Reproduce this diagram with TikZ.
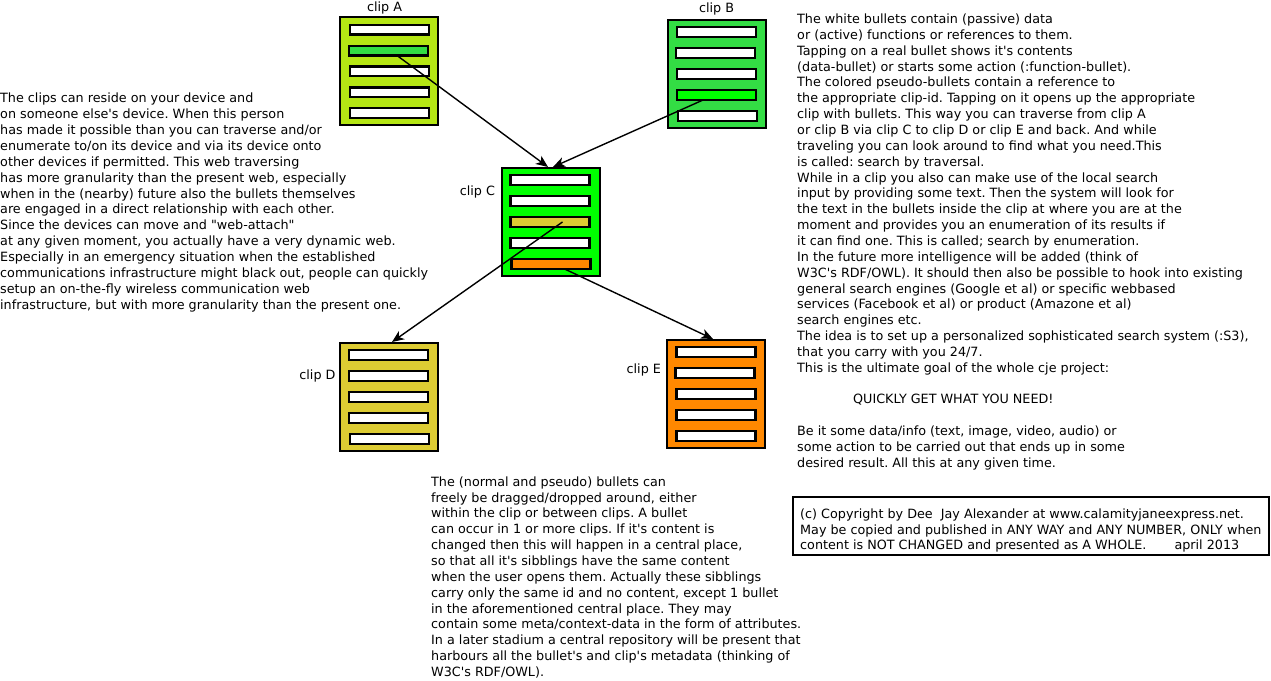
\documentclass[tikz,border=0pt]{standalone}
\usepackage{fontspec}
\setmainfont{DejaVu Sans}[Ligatures=TeXOff]
\usetikzlibrary{matrix,positioning,arrows.meta}
\definecolor{limeA}{RGB}{181,230,20}
\definecolor{greenB}{RGB}{51,221,68}
\definecolor{greenC}{RGB}{0,255,0}
\definecolor{yellowD}{RGB}{221,204,51}
\definecolor{orangeE}{RGB}{255,136,0}
\frenchspacing

\begin{document}
\begin{tikzpicture}[x=1bp, y=-1bp,
        font=\fontsize{12.75bp}{15.85bp}\selectfont,
        clipbox/.style={matrix of nodes, nodes in empty cells, draw, line width=2bp,
            inner sep=0pt, minimum width=98bp, minimum height=108bp, row sep=8.9bp,
            nodes={draw, fill=white, line width=2.2bp, minimum width=79bp, minimum height=9.8bp,
                inner sep=0pt, outer sep=0pt, anchor=center}},
        textblock/.style={align=left, inner sep=0pt, anchor=north west},
        link/.style={-{Stealth[length=12bp, width=10bp, inset=3.5bp]}, line width=1.4bp}
    ]
    \useasboundingbox (0,0) rectangle (1271,681);

    \matrix (A) [clipbox, fill=limeA] at (389,71.5) {
        \\ |[fill=greenB, xshift=-1bp]| \\ \\ \\ \\
    };
    \matrix (B) [clipbox, fill=greenB] at (716.5,74) {
        \\ |[xshift=-1bp]| \\ \\ |[fill=greenC]| \\ |[xshift=1bp]| \\
    };
    \matrix (C) [clipbox, fill=greenC] at (550.5,222) {
        \\ \\ |[fill=yellowD]| \\ \\ |[fill=orangeE, xshift=1bp]| \\
    };
    \matrix (D) [clipbox, fill=yellowD] at (389,397) {
        \\ \\ \\ \\ |[xshift=1bp]| \\
    };
    \matrix (E) [clipbox, fill=orangeE] at (715.5,394) {
        \\ |[xshift=-1bp]| \\ \\ \\ \\
    };

    \node (labA) [above=-1.3bp of A, xshift=-4.5bp] {clip A};
    \node (labB) [above=0bp of B] {clip B};
    \node (labC) [left=2bp of C.west, yshift=30.3bp] {clip C};
    \node (labD) [left=0bp of D.west, yshift=21.3bp] {clip D};
    \node (labE) [left=1bp of E.west, yshift=24bp] {clip E};

    \draw[link] ([xshift=8.5bp]A-2-1.south) -- ([xshift=-2.5bp]C.north);
    \draw[link] ([xshift=-13bp]B-4-1.south) -- ([xshift=2.5bp]C.north);
    \draw[link] ([xshift=12.5bp]C-3-1.center) -- ([xshift=3bp]D.north);
    \draw[link] ([xshift=13bp]C-5-1.south) -- ([xshift=-2.5bp]E.north);

    \node (lefttext) [textblock] at (0,93.1) {The clips can reside on your device and\\
        on someone else's device. When this person\\
        has made it possible than you can traverse and/or\\
        enumerate to/on its device and via its device onto\\
        other devices if permitted. This web traversing\\
        has more granularity than the present web, especially\\
        when in the (nearby) future also the bullets themselves\\
        are engaged in a direct relationship with each other.\\
        Since the devices can move and "web-attach"\\
        at any given moment, you actually have a very dynamic web.\\
        Especially in an emergency situation when the established\\
        communications infrastructure might black out, people can quickly\\
        setup an on-the-fly wireless communication web\\
        infrastructure, but with more granularity than the present one.};

    \node (righttext) [textblock] at (797,13.7) {The white bullets contain (passive) data\\
        or (active) functions or references to them.\\
        Tapping on a real bullet shows it's contents\\
        (data-bullet) or starts some action (:function-bullet).\\
        The colored pseudo-bullets contain a reference to\\
        the appropriate clip-id. Tapping on it opens up the appropriate\\
        clip with bullets. This way you can traverse from clip A\\
        or clip B via clip C to clip D or clip E and back. And while\\
        traveling you can look around to find what you need.This\\
        is called: search by traversal.\\
        While in a clip you also can make use of the local search\\
        input by providing some text. Then the system will look for\\
        the text in the bullets inside the clip at where you are at the\\
        moment and provides you an enumeration of its results if\\
        it can find one. This is called; search by enumeration.\\
        In the future more intelligence will be added (think of\\
        W3C's RDF/OWL). It should then also be possible to hook into existing\\
        general search engines (Google et al) or specific webbased\\
        services (Facebook et al) or product (Amazone et al)\\
        search engines etc.\\
        The idea is to set up a personalized sophisticated search system (:S3),\\
        that you carry with you 24/7.\\
        This is the ultimate goal of the whole cje project:\\[15.85bp]
        \hspace*{56bp}QUICKLY GET WHAT YOU NEED!\\[15.85bp]
        Be it some data/info (text, image, video, audio) or\\
        some action to be carried out that ends up in some\\
        desired result. All this at any given time.};

    \node (bottomtext) [textblock] at (431,476.4) {The (normal and pseudo) bullets can\\
        freely be dragged/dropped around, either\\
        within the clip or between clips. A bullet\\
        can occur in 1 or more clips. If it's content is\\
        changed then this will happen in a central place,\\
        so that all it's sibblings have the same content\\
        when the user opens them. Actually these sibblings\\
        carry only the same id and no content, except 1 bullet\\
        in the aforementioned central place. They may\\
        contain some meta/context-data in the form of attributes.\\
        In a later stadium a central repository will be present that\\
        harbours all the bullet's and clip's metadata (thinking of\\
        W3C's RDF/OWL).};

    \node (copybox) [draw, line width=2bp, minimum width=476bp, minimum height=58bp,
        inner sep=0pt, anchor=north west] at (792,496) {};
    \node (copyright) [textblock] at (800,508.4) {(c) Copyright by Dee~ Jay Alexander at www.calamityjaneexpress.net.\\
        May be copied and published in ANY WAY and ANY NUMBER, ONLY when\\
        content is NOT CHANGED and presented as A WHOLE.\hspace{28bp}april 2013};
\end{tikzpicture}
\end{document}
